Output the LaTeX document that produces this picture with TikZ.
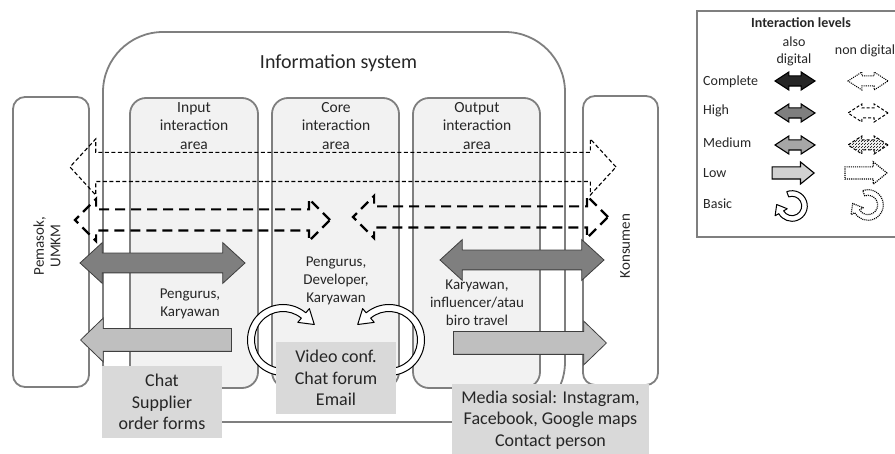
\documentclass[tikz,border=0pt]{standalone}
\usepackage{fontspec}
\setmainfont{Carlito}
\usepackage{xcolor}
\usetikzlibrary{shapes.arrows, patterns}

\definecolor{framegray}{HTML}{7F7F7F}
\definecolor{areafill}{HTML}{F2F2F2}
\definecolor{notefill}{HTML}{D9D9D9}
\definecolor{darkfill}{HTML}{7F7F7F}
\definecolor{lightfill}{HTML}{BFBFBF}
\definecolor{edgegray}{HTML}{3F3F3F}
\definecolor{inkgray}{HTML}{262626}

\begin{document}
\begin{tikzpicture}[x=1pt, y=-1pt,
    every node/.style={text=inkgray, inner sep=0pt},
    sysbox/.style={draw=framegray, line width=1.8pt, rounded corners=60pt},
    sidebox/.style={draw=framegray, line width=1.8pt, rounded corners=12pt},
    areabox/.style={draw=framegray, fill=areafill, line width=1.8pt, rounded corners=16pt, minimum width=127pt, minimum height=290pt},
    areatitle/.style={align=center, font=\fontsize{15.5}{18.5}\selectfont},
    staff/.style={align=center, font=\fontsize{15}{18}\selectfont},
    sidelabel/.style={align=center, rotate=90, font=\fontsize{15}{16.5}\selectfont},
    note/.style={fill=notefill, align=center, font=\fontsize{18}{21.5}\selectfont},
    twoway/.style={double arrow, draw=edgegray, fill=darkfill, line width=0.8pt, inner ysep=9.5pt, double arrow tip angle=85, minimum width=40pt, double arrow head extend=10.5pt},
    oneway/.style={single arrow, draw=edgegray, fill=lightfill, line width=0.8pt, inner ysep=11pt, single arrow tip angle=88, minimum width=43pt, single arrow head extend=10.5pt, anchor=tip},
    thindash/.style={double arrow, draw=black, line width=1.1pt, dash pattern=on 4pt off 2.5pt, inner ysep=14pt, double arrow tip angle=95, minimum width=55pt, double arrow head extend=13.5pt},
    thickdash/.style={double arrow, draw=black, line width=2.2pt, dash pattern=on 10pt off 6pt, inner ysep=9.5pt, double arrow tip angle=90, minimum width=40pt, double arrow head extend=10.5pt, minimum height=255pt},
    loopband/.style={draw=black, fill=white, line width=1pt, line join=round},
    legtext/.style={font=\fontsize{14}{17}\selectfont},
    legtwo/.style={double arrow, draw=black, line width=1.1pt, inner ysep=4.5pt, minimum height=40pt, minimum width=17pt, double arrow head extend=4pt, double arrow tip angle=66},
    legone/.style={single arrow, draw=black, line width=1.1pt, inner ysep=5.5pt, minimum height=42pt, minimum width=21pt, single arrow head extend=5pt, single arrow tip angle=78, anchor=tip},
  ]
  \useasboundingbox (0,0) rectangle (895,454);

  % system frame and the two outside parties
  \node[sysbox, minimum width=462pt, minimum height=390pt] (sys) at (334,227) {};
  \node[anchor=base, font=\fontsize{20}{24}\selectfont] (systitle) at (338.5,69) {Information system};
  \node[sidebox, minimum width=76pt, minimum height=290pt] (pemasok) at (51,242) {};
  \node[sidebox, minimum width=75pt, minimum height=289pt] (konsumen) at (620.5,240.5) {};
  \node[sidelabel] (pemasoklbl) at (47,246) {Pemasok,\\UMKM};
  \node[sidelabel] (konsumenlbl) at (625,246) {Konsumen};

  % interaction areas
  \node[areabox, minimum width=128pt] (inarea) at (194,243) {};
  \node[areabox] (corearea) at (335.5,243) {};
  \node[areabox] (outarea) at (476.5,243) {};
  \node[areatitle] (intitle) at (194,126) {Input\\interaction\\area};
  \node[areatitle] (coretitle) at (336,126) {Core\\interaction\\area};
  \node[areatitle] (outtitle) at (477,126) {Output\\interaction\\area};

  % non digital links
  \node[thindash, minimum height=546pt] (complete) at (343,167) {};
  \node[thickdash] (highin) at (202.5,220) {};
  \node[thickdash] (highout) at (480.5,217) {};

  % digital links
  \node[twoway, minimum height=165pt] (dualin) at (162.5,263) {};
  \node[twoway, minimum height=164pt] (dualout) at (522,260) {};
  \node[oneway, shape border rotate=180, minimum height=151pt] (lowin) at (80,340) {};
  \node[oneway, minimum height=153pt] (lowout) at (607,343) {};

  % who is involved
  \node[staff] (instaff) at (190,304) {Pengurus,\\Karyawan};
  \node[staff] (corestaff) at (336,281) {Pengurus,\\Developer,\\Karyawan};
  \node[staff] (outstaff) at (477,303) {Karyawan,\\influencer/atau\\biro travel};

  % basic loops in the core area
  \begin{scope}[shift={(283,340)}]
    \draw[loopband] (90:35.5) arc[start angle=90, end angle=310, radius=35.5]
      -- (310:41) -- (31.3,-15.5) -- (310:23) -- (310:28.5)
      arc[start angle=310, end angle=90, radius=28.5] -- cycle;
  \end{scope}
  \begin{scope}[shift={(389,340)}]
    \draw[loopband] (90:35.5) arc[start angle=90, end angle=-130, radius=35.5]
      -- (-130:41) -- (-31.3,-15.5) -- (-130:23) -- (-130:28.5)
      arc[start angle=-130, end angle=90, radius=28.5] -- cycle;
  \end{scope}

  % channels
  \node[note, minimum width=120pt, minimum height=72pt] (chat) at (162,402) {Chat\\Supplier\\order forms};
  \node[note, minimum width=120pt, minimum height=72pt] (video) at (336,378) {Video conf.\\Chat forum\\Email};
  \node[note, minimum width=197pt, minimum height=72pt] (media) at (550.5,420) {Media sosial: Instagram,\\Facebook, Google maps\\Contact person};

  % legend
  \node[draw=framegray, line width=1.2pt, minimum width=208pt, minimum height=226pt] (legend) at (801,124) {};
  \node[anchor=base, font=\bfseries\fontsize{14}{17}\selectfont] (legtitle) at (801,28) {Interaction levels};
  \node[legtext, align=center] (alsodig) at (794,51) {also\\digital};
  \node[legtext, anchor=base] (nondig) at (865,55) {non digital};
  \node[legtext, anchor=base west] (lvcomplete) at (703,86) {Complete};
  \node[legtext, anchor=base west] (lvhigh) at (703,115) {High};
  \node[legtext, anchor=base west] (lvmedium) at (703,148) {Medium};
  \node[legtext, anchor=base west] (lvlow) at (703,178) {Low};
  \node[legtext, anchor=base west] (lvbasic) at (703,209) {Basic};

  \node[legtwo, fill=inkgray] (dgcomplete) at (795,81) {};
  \node[legtwo, fill=darkfill] (dghigh) at (795,113) {};
  \node[legtwo, fill=black!35] (dgmedium) at (795,145) {};
  \node[legone, fill=black!18] (dglow) at (815,173) {};
  \node[legtwo, densely dotted, line width=1pt] (ndcomplete) at (868,81) {};
  \node[legtwo, dash pattern=on 3pt off 2pt, line width=1pt] (ndhigh) at (868,113) {};
  \node[legtwo, pattern=north east lines, dash pattern=on 3pt off 2pt, line width=1pt] (ndmedium) at (868,145) {};
  \node[legone, densely dotted, line width=1.2pt] (ndlow) at (888,173) {};

  \begin{scope}[shift={(792,206)}]
    \draw[loopband] (-110:15.3) arc[start angle=-110, end angle=150, radius=15.3]
      -- (150:19.5) -- (-15.3,-1.5) -- (150:5.5) -- (150:9.7)
      arc[start angle=150, end angle=-110, radius=9.7] -- cycle;
  \end{scope}
  \begin{scope}[shift={(868,205)}]
    \draw[loopband, fill=none, densely dotted, line width=1.2pt] (-110:15.3) arc[start angle=-110, end angle=150, radius=15.3]
      -- (150:19.5) -- (-15.3,-1.5) -- (150:5.5) -- (150:9.7)
      arc[start angle=150, end angle=-110, radius=9.7] -- cycle;
  \end{scope}
\end{tikzpicture}
\end{document}
